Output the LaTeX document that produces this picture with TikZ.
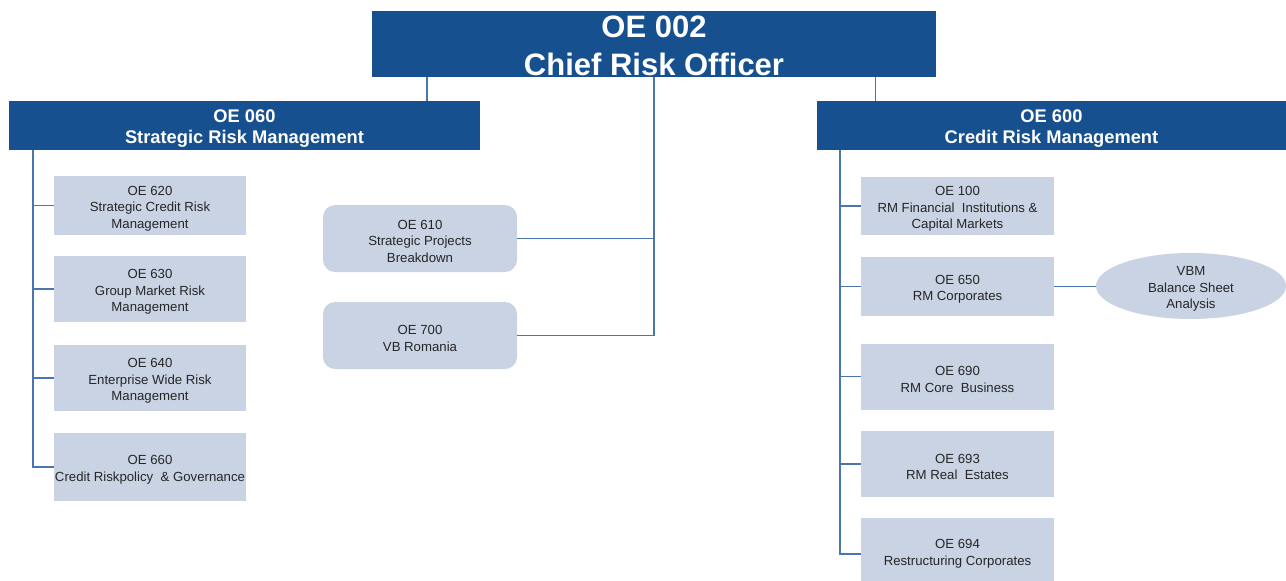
\documentclass[tikz,border=0pt]{standalone}
\usepackage{fontspec}
\setmainfont{Liberation Sans}
\usetikzlibrary{shapes.geometric}
\definecolor{hdrblue}{HTML}{17508F}
\definecolor{boxfill}{HTML}{C9D3E4}
\definecolor{linkblue}{HTML}{4A76B0}
\newcommand{\tstrut}[1]{\rule{0pt}{#1}}
\tikzset{
  hdr/.style={fill=hdrblue, text=white, inner sep=0pt, align=center, font=\bfseries\fontsize{18.3}{21}\selectfont},
  unit/.style={fill=boxfill, text=black!85, inner sep=0pt, align=center, font=\fontsize{13.2}{16.5}\selectfont, minimum width=192pt},
  rbox/.style={unit, rounded corners=12pt, minimum width=194pt, minimum height=67pt},
  oval/.style={unit, ellipse, inner xsep=0pt, inner ysep=-4pt, minimum width=190pt, minimum height=66pt},
  link/.style={draw=linkblue, line width=1.4pt},
}
\begin{document}
\begin{tikzpicture}[x=1pt,y=-1pt]
\useasboundingbox (0,0) rectangle (1286,581);
\clip (0,0) rectangle (1286,581);
% top
\node[hdr, minimum width=564pt, minimum height=66pt, font=\bfseries\fontsize{31}{38}\selectfont] (top) at (654,44) {\tstrut{26pt}OE 002\\Chief Risk Officer};
\node[hdr, minimum width=471pt, minimum height=49pt] (lh) at (244.5,125.5) {\tstrut{19pt}OE 060\\Strategic Risk Management};
\node[hdr, minimum width=469pt, minimum height=49pt] (rh) at (1051.5,125.5) {\tstrut{19pt}OE 600\\Credit Risk Management};
% left units
\node[unit, minimum height=59pt] (o620) at (150,205.5) {\tstrut{15pt}OE 620\\Strategic Credit Risk\\Management};
\node[unit, minimum height=66pt] (o630) at (150,289) {\tstrut{15pt}OE 630\\Group Market Risk\\Management};
\node[unit, minimum height=66pt] (o640) at (150,378) {\tstrut{15pt}OE 640\\Enterprise Wide Risk\\Management};
\node[unit, minimum height=68pt] (o660) at (150,467) {\tstrut{15pt}OE 660\\Credit Riskpolicy \ \& Governance};
% middle units
\node[rbox] (o610) at (420,238.5) {\tstrut{15pt}OE 610\\Strategic Projects\\Breakdown};
\node[rbox] (o700) at (420,335.5) {\tstrut{15pt}OE 700\\VB Romania};
% right units
\node[unit, minimum width=193pt, minimum height=58pt] (o100) at (957.5,206) {\tstrut{15pt}OE 100\\RM Financial \ Institutions \&\\Capital Markets};
\node[unit, minimum width=193pt, minimum height=59pt] (o650) at (957.5,286.5) {\tstrut{15pt}OE 650\\RM Corporates};
\node[unit, minimum width=193pt, minimum height=66pt] (o690) at (957.5,376.5) {\tstrut{15pt}OE 690\\RM Core \ Business};
\node[unit, minimum width=193pt, minimum height=66pt] (o693) at (957.5,464) {\tstrut{15pt}OE 693\\RM Real \ Estates};
\node[unit, minimum width=193pt, minimum height=72pt] (o694) at (957.5,554) {OE 694\\Restructuring Corporates};
\node[oval] (vbm) at (1191,286) {\tstrut{15pt}VBM\\Balance Sheet\\Analysis};
% coordinates for trunks
\coordinate (lt) at ([xshift=55pt]top.south west);
\coordinate (rt) at ([xshift=-61pt]top.south east);
\coordinate (lv) at ([xshift=24pt]lh.south west);
\coordinate (rv) at ([xshift=23pt]rh.south west);
% connectors
\draw[link] (lt) -- (lt |- lh.north);
\draw[link] (rt) -- (rt |- rh.north);
\draw[link] (top.south) -- (top.south |- o700.east) -- (o700.east);
\draw[link] (o610.east) -- (o610.east -| top.south);
\draw[link] (lv) -- (lv |- o660.west) -- (o660.west);
\foreach \n in {o620,o630,o640} \draw[link] (\n.west) -- (\n.west -| lv);
\draw[link] (rv) -- (rv |- o694.west) -- (o694.west);
\foreach \n in {o100,o650,o690,o693} \draw[link] (\n.west) -- (\n.west -| rv);
\draw[link] (o650.east) -- (o650.east -| vbm.west);
\end{tikzpicture}
\end{document}
